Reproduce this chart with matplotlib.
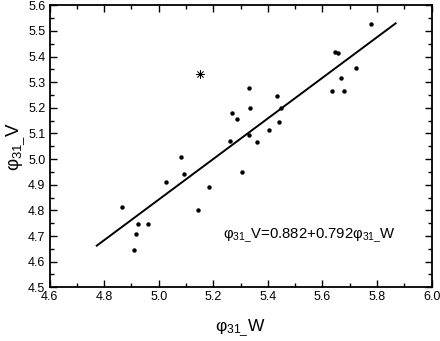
import matplotlib
matplotlib.use("Agg")
import matplotlib.pyplot as plt
import numpy as np
from matplotlib.ticker import MultipleLocator

plt.rcParams["font.family"] = ["Liberation Sans", "DejaVu Sans"]
plt.rcParams["mathtext.fontset"] = "custom"
plt.rcParams["mathtext.rm"] = "Liberation Sans"
plt.rcParams["mathtext.it"] = "Liberation Sans"

# phi31_W vs phi31_V readings
w = [5.778, 5.646, 5.658, 5.724, 5.668, 5.635, 5.679, 5.331, 5.434, 5.334,
     5.448, 5.268, 5.288, 5.442, 5.404, 5.262, 5.332, 5.359, 5.083, 5.092,
     5.028, 5.306, 5.185, 5.145, 4.867, 4.925, 4.962, 4.918, 4.908]
v = [5.528, 5.418, 5.415, 5.354, 5.316, 5.266, 5.266, 5.279, 5.247, 5.199,
     5.199, 5.179, 5.158, 5.144, 5.115, 5.072, 5.093, 5.068, 5.007, 4.943,
     4.911, 4.951, 4.890, 4.802, 4.812, 4.747, 4.747, 4.709, 4.644]

# outlier marked with an asterisk
out_w = [5.151]
out_v = [5.331]

# fit: V = 0.882 + 0.792 W
intercept, slope = 0.882, 0.792
fit_w = np.array([4.773, 5.868])

fig = plt.figure(figsize=(4.4, 3.41), dpi=100)
ax = fig.add_axes([0.1125, 0.1575, 0.8685, 0.827])

ax.plot(w, v, "o", color="black", markersize=3.2, markeredgewidth=0)
ax.plot(out_w, out_v, marker=(8, 2, 0), color="black", markersize=6,
        markeredgewidth=0.5, linestyle="none")
ax.plot(fit_w, intercept + slope * fit_w, color="black", linewidth=1.4)

ax.text(5.234, 4.70, r"φ$_{31\_}$V=0.882+0.792φ$_{31\_}$W", fontsize=10.7,
        va="center", ha="left")

ax.set_xlim(4.6, 6.0)
ax.set_ylim(4.5, 5.6)
ax.xaxis.set_major_locator(MultipleLocator(0.2))
ax.xaxis.set_minor_locator(MultipleLocator(0.1))
ax.yaxis.set_major_locator(MultipleLocator(0.1))
ax.yaxis.set_minor_locator(MultipleLocator(0.05))
ax.tick_params(which="both", direction="in", top=True, right=True,
               labelsize=9, width=1, pad=3)
ax.tick_params(which="major", length=5)
ax.tick_params(which="minor", length=3)
for s in ax.spines.values():
    s.set_linewidth(1.3)

ax.set_xlabel(r"φ$_{31\_}$W", fontsize=12.5, labelpad=10)
ax.set_ylabel(r"φ$_{31\_}$V", fontsize=13.5, labelpad=1)

fig.savefig("out.png", dpi=100)
